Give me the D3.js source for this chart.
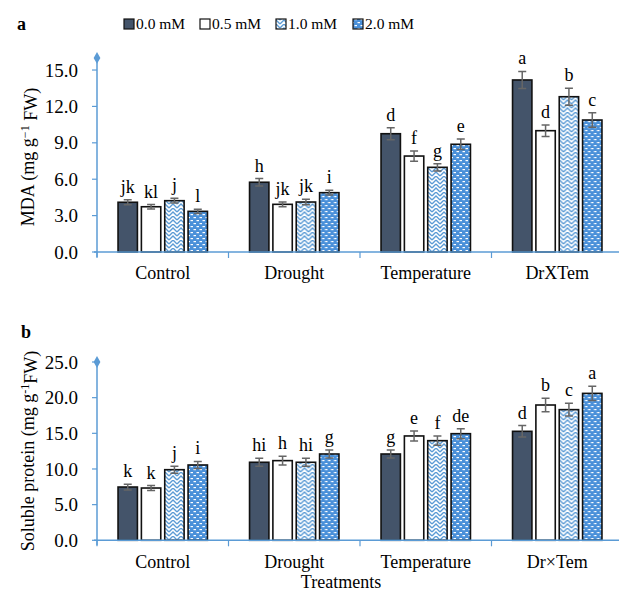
<!DOCTYPE html>
<html>
<head>
<meta charset="utf-8">
<script src="https://cdn.jsdelivr.net/npm/d3@7"></script>
<style>
  body { margin: 0; background: #fff; }
  svg { display: block; font-family: "Liberation Serif", "Times New Roman", serif; }
</style>
</head>
<body>
<div id="vis"></div>
<script>
// data
const series = ["0.0 mM", "0.5 mM", "1.0 mM", "2.0 mM"];
const catsA = ["Control", "Drought", "Temperature", "DrXTem"];
const catsB = ["Control", "Drought", "Temperature", "Dr\u00d7Tem"];

const mda = [
  [4.10, 3.73, 4.23, 3.35],
  [5.75, 3.93, 4.12, 4.89],
  [9.75, 7.91, 6.98, 8.88],
  [14.18, 10.00, 12.80, 10.88]
];
const mdaErr = [
  [0.20, 0.18, 0.20, 0.17],
  [0.30, 0.20, 0.22, 0.20],
  [0.50, 0.42, 0.30, 0.44],
  [0.70, 0.47, 0.70, 0.60]
];
const mdaLetters = [
  ["jk", "kl", "j", "l"],
  ["h", "jk", "jk", "i"],
  ["d", "f", "g", "e"],
  ["a", "d", "b", "c"]
];

const protein = [
  [7.47, 7.33, 9.90, 10.56],
  [10.94, 11.17, 10.94, 12.10],
  [12.10, 14.63, 13.97, 14.95],
  [15.28, 18.97, 18.32, 20.60]
];
const proteinErr = [
  [0.40, 0.35, 0.50, 0.50],
  [0.55, 0.60, 0.55, 0.55],
  [0.55, 0.70, 0.65, 0.70],
  [0.80, 0.95, 0.90, 1.00]
];
const proteinLetters = [
  ["k", "k", "j", "i"],
  ["hi", "h", "hi", "g"],
  ["g", "e", "f", "de"],
  ["d", "b", "c", "a"]
];

const ticksA = [0, 3, 6, 9, 12, 15];
const ticksB = [0, 5, 10, 15, 20, 25];

const width = 619, height = 593;
const axisBlue = "#5b9bd5";
const dark = "#44546a";

const svg = d3.select("#vis").append("svg")
  .attr("width", width)
  .attr("height", height);

// patterns
const defs = svg.append("defs");
const zig = defs.append("pattern")
  .attr("id", "zig")
  .attr("patternUnits", "userSpaceOnUse")
  .attr("width", 8).attr("height", 8);
zig.append("rect").attr("width", 8).attr("height", 8).attr("fill", "#fff");
zig.append("path")
  .attr("d", "M0,4 L4,0 L8,4 M0,8 L4,4 L8,8 M-1,1 L0,0 M8,0 L9,1")
  .attr("fill", "none")
  .attr("stroke", axisBlue)
  .attr("stroke-width", 1.4);

const dots = defs.append("pattern")
  .attr("id", "dots")
  .attr("patternUnits", "userSpaceOnUse")
  .attr("width", 6).attr("height", 6);
dots.append("rect").attr("width", 6).attr("height", 6).attr("fill", "#4a90d9");
dots.append("rect").attr("x", 0.5).attr("y", 1).attr("width", 2.5).attr("height", 1.2).attr("fill", "#fff");
dots.append("rect").attr("x", 3.5).attr("y", 4).attr("width", 2.5).attr("height", 1.2).attr("fill", "#fff");

const fills = [dark, "#fff", "url(#zig)", "url(#dots)"];

function panel(opts) {
  const { cats, values, errs, letters, ticks, yMax, y0, y1, title, titleY, catY } = opts;
  const left = 97, right = 623;

  const x = d3.scaleBand().domain(cats).range([left, right]);
  const inner = d3.scaleBand().domain(series)
    .range([x.bandwidth() * 0.16, x.bandwidth() * 0.84])
    .paddingInner(0.17);
  const y = d3.scaleLinear().domain([0, yMax]).range([y0, y1]);

  const g = svg.append("g");

  // y axis line with diamond end
  g.append("line")
    .attr("x1", left).attr("x2", left)
    .attr("y1", y(0) + 5).attr("y2", y(yMax))
    .attr("stroke", axisBlue).attr("stroke-width", 1.5);
  g.append("path")
    .attr("d", d3.symbol().type(d3.symbolDiamond).size(40))
    .attr("transform", `translate(${left},${y(yMax)})`)
    .attr("fill", axisBlue);

  // y ticks
  const yt = g.append("g");
  ticks.forEach(t => {
    yt.append("line")
      .attr("x1", left - 5).attr("x2", left)
      .attr("y1", y(t)).attr("y2", y(t))
      .attr("stroke", axisBlue).attr("stroke-width", 1.2);
    yt.append("text")
      .attr("x", left - 19).attr("y", y(t))
      .attr("dy", "0.35em")
      .attr("text-anchor", "end")
      .attr("font-size", "19px")
      .attr("fill", "#000")
      .text(d3.format(".1f")(t));
  });

  // bars
  cats.forEach((c, i) => {
    const grp = g.append("g").attr("transform", `translate(${x(c)},0)`);
    series.forEach((s, j) => {
      const v = values[i][j], e = errs[i][j];
      const bx = inner(s), bw = inner.bandwidth();
      grp.append("rect")
        .attr("x", bx).attr("y", y(v))
        .attr("width", bw).attr("height", y(0) - y(v))
        .attr("fill", fills[j])
        .attr("stroke", "#111").attr("stroke-width", 1.6);
      const cx = bx + bw / 2;
      grp.append("path")
        .attr("d", `M${cx},${y(v + e)}V${y(v - e)}M${cx - 4},${y(v + e)}H${cx + 4}M${cx - 4},${y(v - e)}H${cx + 4}`)
        .attr("stroke", "#666").attr("stroke-width", 1.5).attr("fill", "none");
      grp.append("text")
        .attr("x", cx).attr("y", y(v + e) - 7)
        .attr("text-anchor", "middle")
        .attr("font-size", "18px")
        .attr("fill", "#000")
        .text(letters[i][j]);
    });
  });

  // x axis
  g.append("line")
    .attr("x1", left - 3).attr("x2", right)
    .attr("y1", y(0)).attr("y2", y(0))
    .attr("stroke", axisBlue).attr("stroke-width", 1.5);
  cats.forEach(c => {
    g.append("line")
      .attr("x1", x(c)).attr("x2", x(c))
      .attr("y1", y(0)).attr("y2", y(0) + 6)
      .attr("stroke", axisBlue).attr("stroke-width", 1.2);
    g.append("text")
      .attr("x", x(c) + x.bandwidth() / 2).attr("y", catY)
      .attr("text-anchor", "middle")
      .attr("font-size", "18px")
      .attr("fill", "#000")
      .text(c);
  });

  // y title
  const yTitle = g.append("text")
    .attr("transform", `translate(34,${titleY}) rotate(-90)`)
    .attr("text-anchor", "middle")
    .attr("font-size", "18px")
    .attr("fill", "#000");
  title(yTitle);
}

// panel a
panel({
  cats: catsA, values: mda, errs: mdaErr, letters: mdaLetters,
  ticks: ticksA, yMax: 16, y0: 252, y1: 57.9,
  titleY: 157, catY: 279,
  title: t => {
    t.append("tspan").text("MDA (mg g");
    t.append("tspan").attr("dy", "-0.45em").attr("font-size", "12px").text("\u22121");
    t.append("tspan").attr("dy", "0.45em").text(" FW)");
  }
});

// panel b
panel({
  cats: catsB, values: protein, errs: proteinErr, letters: proteinLetters,
  ticks: ticksB, yMax: 25, y0: 540.3, y1: 362,
  titleY: 451, catY: 568,
  title: t => {
    t.append("tspan").text("Soluble protein (mg g");
    t.append("tspan").attr("dy", "-0.45em").attr("font-size", "12px").text("-1");
    t.append("tspan").attr("dy", "0.45em").text("FW)");
  }
});

// panel letters
svg.append("text").attr("x", 17).attr("y", 30)
  .attr("font-size", "18px").attr("font-weight", "bold").text("a");
svg.append("text").attr("x", 21).attr("y", 338)
  .attr("font-size", "18px").attr("font-weight", "bold").text("b");

// x title
svg.append("text").attr("x", 341).attr("y", 588)
  .attr("text-anchor", "middle").attr("font-size", "18px").text("Treatments");

// legend
const legendX = [124, 200, 276, 353];
const legend = svg.append("g");
series.forEach((s, j) => {
  legend.append("rect")
    .attr("x", legendX[j]).attr("y", 19)
    .attr("width", 10).attr("height", 10)
    .attr("fill", fills[j])
    .attr("stroke", "#111").attr("stroke-width", 1.2);
  legend.append("text")
    .attr("x", legendX[j] + 12).attr("y", 29)
    .attr("font-size", "15.5px")
    .text(s);
});
</script>
</body>
</html>
